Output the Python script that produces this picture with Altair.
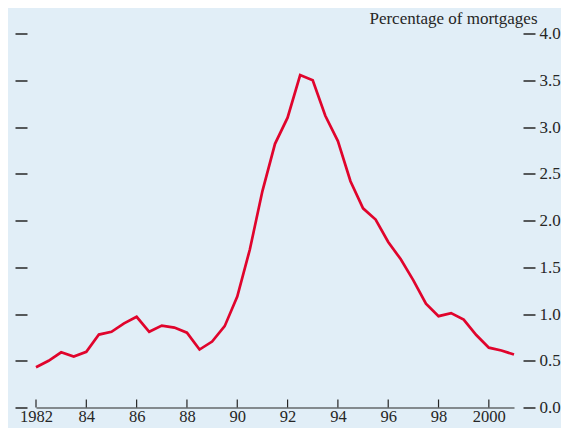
import altair as alt
import pandas as pd

years = [1982.0, 1982.5, 1983.0, 1983.5, 1984.0, 1984.5, 1985.0, 1985.5, 1986.0, 1986.5,
         1987.0, 1987.5, 1988.0, 1988.5, 1989.0, 1989.5, 1990.0, 1990.5, 1991.0, 1991.5,
         1992.0, 1992.5, 1993.0, 1993.5, 1994.0, 1994.5, 1995.0, 1995.5, 1996.0, 1996.5,
         1997.0, 1997.5, 1998.0, 1998.5, 1999.0, 1999.5, 2000.0, 2000.5, 2001.0]
rates = [0.43, 0.50, 0.59, 0.545, 0.595, 0.78, 0.81, 0.90, 0.97, 0.81,
         0.876, 0.855, 0.80, 0.62, 0.705, 0.87, 1.186, 1.69, 2.315, 2.82,
         3.10, 3.556, 3.50, 3.12, 2.85, 2.42, 2.13, 2.01, 1.77, 1.585,
         1.36, 1.11, 0.977, 1.01, 0.94, 0.775, 0.64, 0.61, 0.566]
tick_years = [1982, 1984, 1986, 1988, 1990, 1992, 1994, 1996, 1998, 2000]
y_ticks = [0.0, 0.5, 1.0, 1.5, 2.0, 2.5, 3.0, 3.5, 4.0]
y_title = "Percentage of mortgages"

W, H = 478, 374
FONT = "Liberation Serif"
INK = "#262626"

df = pd.DataFrame({"year": years, "rate": rates})
ticks_df = pd.DataFrame({"year": tick_years})

xscale = alt.Scale(domain=[1982, 2001], nice=False, zero=False)
yscale = alt.Scale(domain=[0, 4], nice=False, zero=True)

x_axis = alt.Axis(
    values=tick_years, ticks=False, tickSize=0, grid=False, domain=True,
    domainColor=INK, domainWidth=1.2, labelFlush=False,
    labelExpr="(datum.value == 1982 || datum.value == 2000) ? toString(datum.value) : substring(toString(datum.value), 2)",
    labelFont=FONT, labelFontSize=16.5, labelColor=INK, labelPadding=1, title=None,
)

left_axis = alt.Axis(
    orient="left", values=y_ticks, ticks=True, tickSize=12, tickWidth=1.5, tickColor=INK,
    offset=9, domain=False, labels=False, grid=False, title=None,
)

right_axis = alt.Axis(
    orient="right", values=y_ticks, ticks=True, tickSize=12, tickWidth=1.5, tickColor=INK,
    offset=9, domain=False, labels=True, format=".1f", grid=False,
    labelFont=FONT, labelFontSize=17, labelColor=INK, labelPadding=4,
    title=y_title, titleFont=FONT, titleFontSize=17, titleFontWeight="normal",
    titleColor=INK, titleAngle=0, titleAlign="right", titleBaseline="alphabetic",
    titleX=14, titleY=-10,
)

left_layer = alt.Chart(df).mark_line(strokeOpacity=0).encode(
    x=alt.X("year:Q", scale=xscale, axis=x_axis),
    y=alt.Y("rate:Q", scale=yscale, axis=left_axis),
)

line_layer = alt.Chart(df).mark_line(color="#e0042c", strokeWidth=2.7).encode(
    x=alt.X("year:Q", scale=xscale, axis=x_axis),
    y=alt.Y("rate:Q", scale=yscale, axis=right_axis),
)

tick_layer = alt.Chart(ticks_df).mark_rule(color=INK, strokeWidth=1.2).encode(
    x=alt.X("year:Q", scale=xscale, axis=x_axis),
    y=alt.value(H),
    y2=alt.value(H - 8),
)

chart = (
    alt.layer(left_layer, tick_layer, line_layer)
    .resolve_scale(y="shared")
    .resolve_axis(y="independent")
    .properties(
        width=W, height=H,
        autosize=alt.AutoSizeParams(type="none"),
        padding={"left": 28, "top": 25.5, "right": 47, "bottom": 20.5},
        background="#e1eef7",
    )
    .configure_view(stroke=None)
)

chart.save("out.html", embed_options={"renderer": "svg", "actions": False})
